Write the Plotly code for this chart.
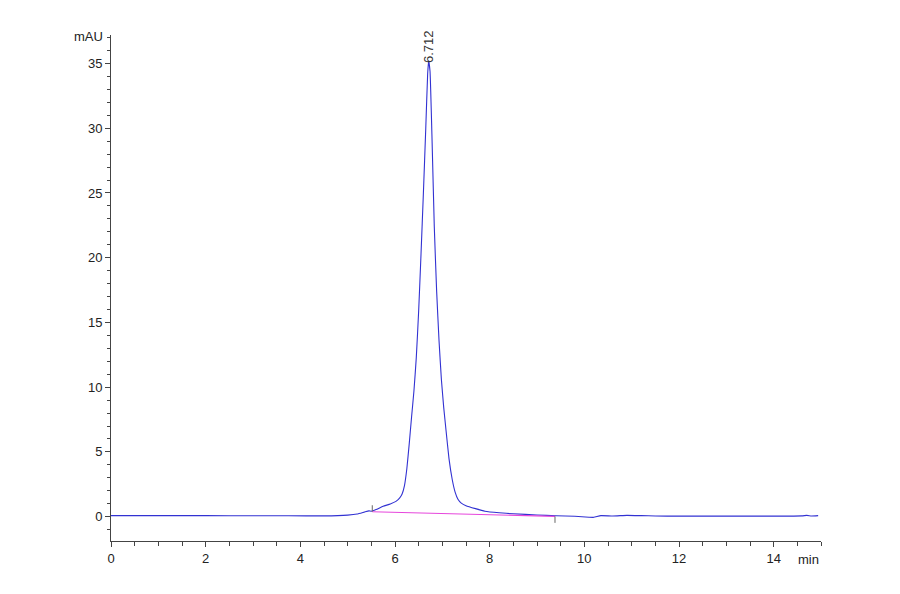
import plotly.graph_objects as go

# chromatogram trace (min, mAU)
time_min = [0.0, 1.0, 2.0, 3.0, 3.75, 4.5, 5.0, 5.2, 5.35, 5.45, 5.5, 5.6,
            5.75, 5.9, 6.02, 6.1, 6.15, 6.2, 6.25, 6.3, 6.35, 6.4, 6.45,
            6.5, 6.55, 6.6, 6.65, 6.69, 6.712, 6.74, 6.78, 6.83, 6.88,
            6.93, 6.98, 7.03, 7.08, 7.14, 7.21, 7.27, 7.33, 7.4, 7.5, 7.7,
            7.9, 8.2, 8.5, 9.0, 9.4, 9.8, 10.1, 10.2, 10.35, 10.6, 10.9,
            11.2, 11.5, 12.0, 13.0, 14.0, 14.6, 14.7, 14.8, 14.94]
signal_mau = [0.08, 0.08, 0.08, 0.07, 0.07, 0.06, 0.12, 0.2, 0.35, 0.45,
              0.42, 0.55, 0.8, 0.98, 1.18, 1.45, 1.75, 2.4, 3.7, 5.6, 7.7,
              9.7, 12.3, 15.9, 20.3, 25.0, 30.0, 34.2, 35.2, 34.4, 29.5,
              22.4, 17.4, 13.6, 10.6, 8.4, 6.6, 4.5, 2.85, 1.9, 1.35, 1.05,
              0.85, 0.62, 0.42, 0.3, 0.22, 0.13, 0.07, 0.03, -0.04, -0.05,
              0.08, 0.05, 0.1, 0.08, 0.05, 0.04, 0.04, 0.04, 0.06, 0.1,
              0.05, 0.08]

# integration baseline
base_t = [5.52, 9.38]
base_v = [0.38, 0.02]

peak_rt = 6.712
peak_h = 35.2

fig = go.Figure()
fig.add_trace(go.Scatter(x=time_min, y=signal_mau, mode='lines',
                         line=dict(color='rgb(50,50,210)', width=1.1,
                                   shape='spline', smoothing=0.4),
                         hoverinfo='skip'))
fig.add_trace(go.Scatter(x=base_t, y=base_v, mode='lines',
                         line=dict(color='rgb(230,70,220)', width=1.2),
                         hoverinfo='skip'))
# little start/end markers of the integration
fig.add_trace(go.Scatter(x=[base_t[0], base_t[0], None, base_t[1], base_t[1]],
                         y=[base_v[0], base_v[0] + 0.5, None,
                            base_v[1], base_v[1] - 0.5],
                         mode='lines', line=dict(color='#666', width=1),
                         hoverinfo='skip'))

font = dict(family='Liberation Sans, Arial', size=13, color='#222')
fig.add_annotation(x=peak_rt, y=peak_h, text=f'{peak_rt:.3f}', textangle=-90,
                   showarrow=False, yanchor='bottom', yshift=-4,
                   font=dict(family='Liberation Sans, Arial', size=13, color='#333'))
fig.add_annotation(xref='paper', x=0, y=37.1, text='mAU', showarrow=False,
                   xanchor='right', xshift=-6, font=font)
fig.add_annotation(x=15, yref='paper', y=0, text='min', showarrow=False,
                   xanchor='right', yanchor='top', yshift=-9, font=font)

fig.update_layout(
    width=900, height=594,
    margin=dict(l=103, r=87, t=27, b=61),
    plot_bgcolor='white', paper_bgcolor='white',
    showlegend=False, font=font,
    xaxis=dict(range=[0, 15], tickvals=[0, 2, 4, 6, 8, 10, 12, 14],
               showgrid=False, zeroline=False, showline=True,
               linecolor='#444', linewidth=1, ticks='outside', ticklen=5,
               tickcolor='#444',
               minor=dict(dtick=0.5, ticks='outside', ticklen=4,
                          tickcolor='#444', showgrid=False)),
    yaxis=dict(range=[-1.88, 37.2], tickvals=[0, 5, 10, 15, 20, 25, 30, 35],
               showgrid=False, zeroline=False, showline=True,
               linecolor='#444', linewidth=1, ticks='outside', ticklen=5,
               tickcolor='#444',
               minor=dict(dtick=1, ticks='outside', ticklen=3,
                          tickcolor='#444', showgrid=False)),
)

fig.write_html("out.html")
